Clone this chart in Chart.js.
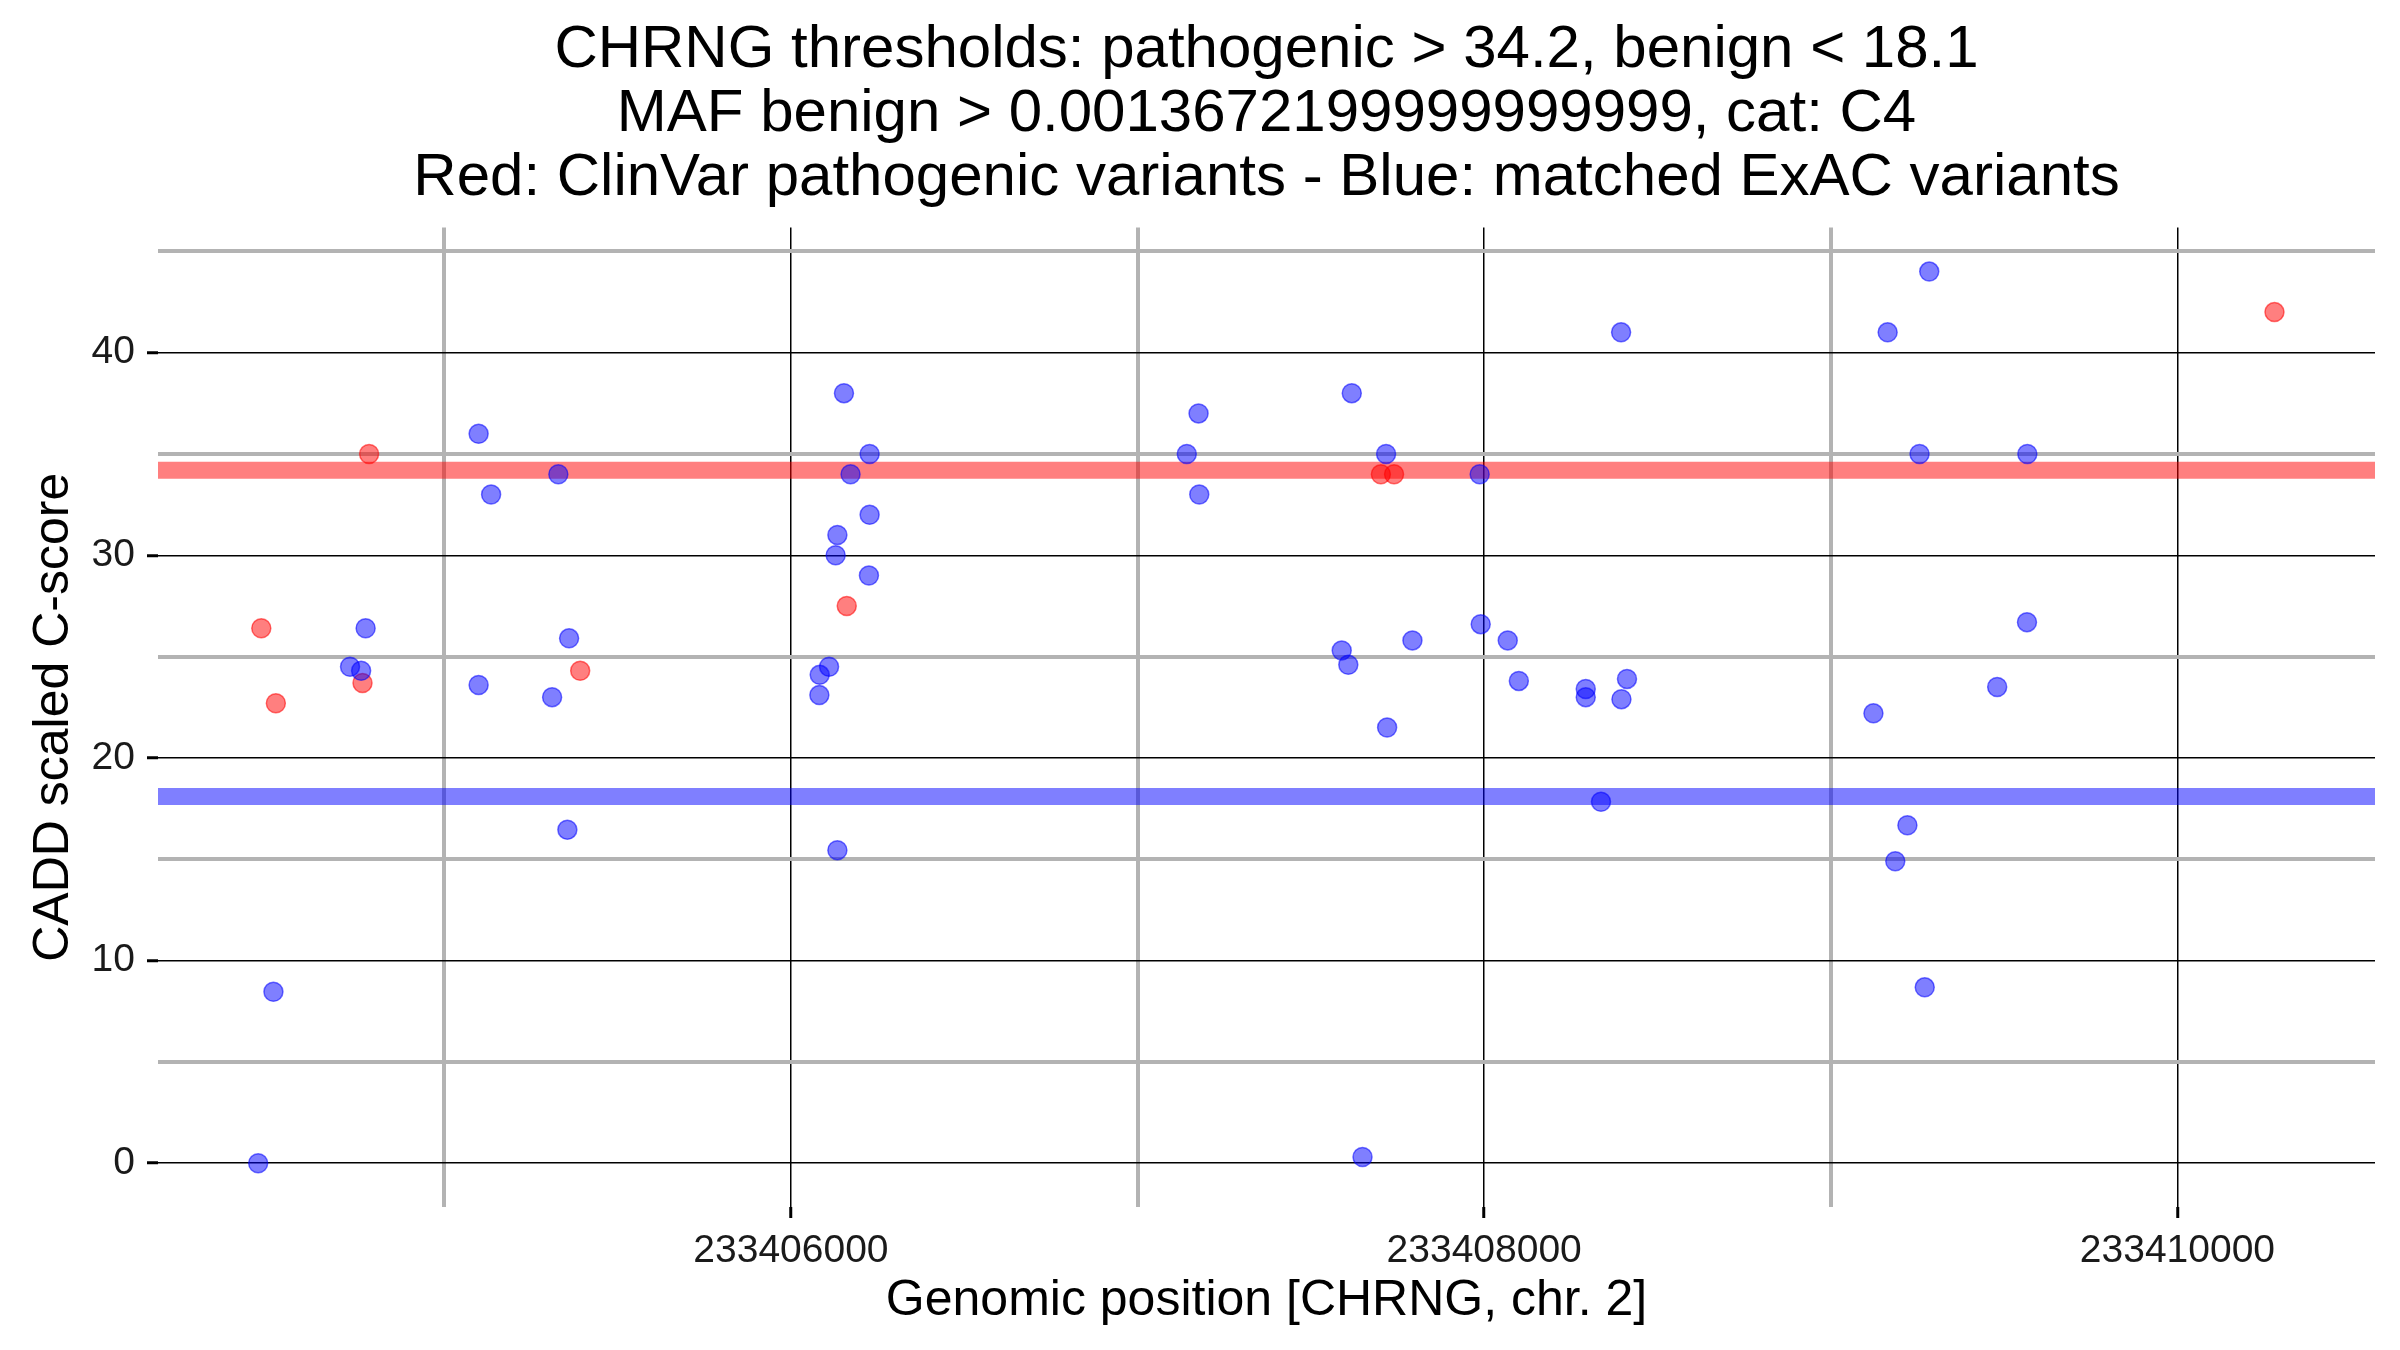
<!DOCTYPE html>
<html>
<head>
<meta charset="utf-8">
<script src="https://cdn.jsdelivr.net/npm/chart.js@4.4.1/dist/chart.umd.min.js"></script>
<style>
  html, body { margin: 0; padding: 0; background: #fff; }
  #wrap { width: 2400px; height: 1350px; }
</style>
</head>
<body>
<div id="wrap"><canvas id="myChart"></canvas></div>
<script>
const titleLines = [
  'CHRNG thresholds: pathogenic > 34.2, benign < 18.1',
  'MAF benign > 0.0013672199999999999, cat: C4',
  'Red: ClinVar pathogenic variants - Blue: matched ExAC variants'
]
const xTitle = 'Genomic position [CHRNG, chr. 2]'
const yTitle = 'CADD scaled C-score'

const pathogenicCut = 34.2
const benignCut = 18.1

// ClinVar pathogenic (red)
const redPos = [233404472, 233404783, 233404764, 233404514, 233405392, 233406161, 233407702, 233407740, 233410280]
const redScore = [26.4, 35.0, 23.7, 22.7, 24.3, 27.5, 34.0, 34.0, 42.0]

// matched ExAC (blue)
const bluePos = [
  233405099, 233405329, 233405135, 233404773, 233404728, 233404760, 233405099, 233405360, 233405311, 233405355,
  233404507, 233404463, 233406153, 233406227, 233406172, 233406227, 233406134, 233406129, 233406225, 233406110,
  233406083, 233406082, 233406134, 233407176, 233407142, 233407178, 233408395, 233407618, 233407717, 233407987,
  233407990, 233407793, 233407589, 233407608, 233407720, 233408068, 233408100, 233408293, 233408293, 233408412,
  233408396, 233408337, 233407649, 233409284, 233409164, 233409256, 233409567, 233409566, 233409480, 233409123,
  233409221, 233409186, 233409271
]
const blueScore = [
  36.0, 34.0, 33.0, 26.4, 24.5, 24.3, 23.6, 25.9, 23.0, 16.46,
  8.46, 0.0, 38.0, 35.0, 34.0, 32.0, 31.0, 30.0, 29.0, 24.5,
  24.1, 23.1, 15.45, 37.0, 35.0, 33.0, 41.0, 38.0, 35.0, 34.0,
  26.6, 25.8, 25.3, 24.6, 21.5, 25.8, 23.8, 23.4, 23.0, 23.9,
  22.9, 17.84, 0.31, 44.0, 41.0, 35.0, 35.0, 26.7, 23.5, 22.2,
  16.68, 14.9, 8.68
]

const xTicks = [233405000, 233406000, 233407000, 233408000, 233409000, 233410000]
const xLabeled = [233406000, 233408000, 233410000]
const yTicks = [0, 5, 10, 15, 20, 25, 30, 35, 40, 45]
const yLabeled = [0, 10, 20, 30, 40]

const xMin = 233404174, xMax = 233410570
const yMin = -2.16, yMax = 46.17

const FONT = '"Liberation Sans", Arial, Helvetica, sans-serif'
const GREY = '#b3b3b3'

const toPoints = (xs, ys) => xs.map((x, i) => ({ x: x, y: ys[i] }))
const isMajor = (list, ctx) => ctx.tick && list.includes(ctx.tick.value)

const ctx = document.getElementById('myChart')

new Chart(ctx, {
  type: 'scatter',
  data: {
    datasets: [
      {
        label: 'ExAC',
        data: toPoints(bluePos, blueScore),
        backgroundColor: 'rgba(0,0,255,0.5)',
        borderColor: 'rgba(0,0,255,0.55)',
        borderWidth: 1.5,
        pointRadius: 9.5
      },
      {
        label: 'ClinVar',
        data: toPoints(redPos, redScore),
        backgroundColor: 'rgba(255,0,0,0.5)',
        borderColor: 'rgba(255,0,0,0.55)',
        borderWidth: 1.5,
        pointRadius: 9.5
      },
      {
        type: 'line',
        label: 'pathogenic',
        data: [{ x: xMin, y: pathogenicCut }, { x: xMax, y: pathogenicCut }],
        borderColor: 'rgba(255,0,0,0.5)',
        borderWidth: 17,
        pointRadius: 0
      },
      {
        type: 'line',
        label: 'benign',
        data: [{ x: xMin, y: benignCut }, { x: xMax, y: benignCut }],
        borderColor: 'rgba(0,0,255,0.5)',
        borderWidth: 17,
        pointRadius: 0
      }
    ]
  },
  options: {
    responsive: true,
    maintainAspectRatio: false,
    animation: false,
    layout: { padding: { left: 0, right: 25, top: 0, bottom: 0 } },
    scales: {
      x: {
        type: 'linear',
        position: 'bottom',
        min: xMin,
        max: xMax,
        afterBuildTicks: (scale) => { scale.ticks = xTicks.map(v => ({ value: v })) },
        afterFit: (scale) => { scale.height = 143 },
        border: { display: false },
        grid: {
          color: (c) => isMajor(xLabeled, c) ? '#000' : GREY,
          lineWidth: (c) => isMajor(xLabeled, c) ? 1.5 : 4,
          tickColor: (c) => isMajor(xLabeled, c) ? '#000' : 'rgba(0,0,0,0)',
          tickWidth: 3,
          tickLength: 11
        },
        ticks: {
          autoSkip: false,
          maxRotation: 0,
          padding: 10,
          color: '#1a1a1a',
          font: { family: FONT, size: 39 },
          callback: (v) => xLabeled.includes(v) ? String(v) : ''
        },
        title: {
          display: true,
          text: xTitle,
          color: '#000',
          font: { family: FONT, size: 50 },
          padding: { top: 0, bottom: 19 }
        }
      },
      y: {
        min: yMin,
        max: yMax,
        afterBuildTicks: (scale) => { scale.ticks = yTicks.map(v => ({ value: v })) },
        afterFit: (scale) => { scale.width = 158 },
        border: { display: false },
        grid: {
          color: (c) => isMajor(yLabeled, c) ? '#000' : GREY,
          lineWidth: (c) => isMajor(yLabeled, c) ? 1.5 : 4,
          tickColor: (c) => isMajor(yLabeled, c) ? '#000' : 'rgba(0,0,0,0)',
          tickWidth: 3,
          tickLength: 11
        },
        ticks: {
          padding: 12,
          color: '#1a1a1a',
          font: { family: FONT, size: 39 },
          callback: (v) => yLabeled.includes(v) ? String(v) : ''
        },
        title: {
          display: true,
          text: yTitle,
          color: '#000',
          font: { family: FONT, size: 50 },
          padding: { top: 24, bottom: 0 }
        }
      }
    },
    plugins: {
      legend: { display: false },
      tooltip: { enabled: false },
      title: {
        display: true,
        fullSize: false,
        text: titleLines,
        color: '#000',
        font: { family: FONT, size: 60, weight: 'normal', lineHeight: 1.07 },
        padding: { top: 18, bottom: 17 }
      }
    }
  }
})
</script>
</body>
</html>
